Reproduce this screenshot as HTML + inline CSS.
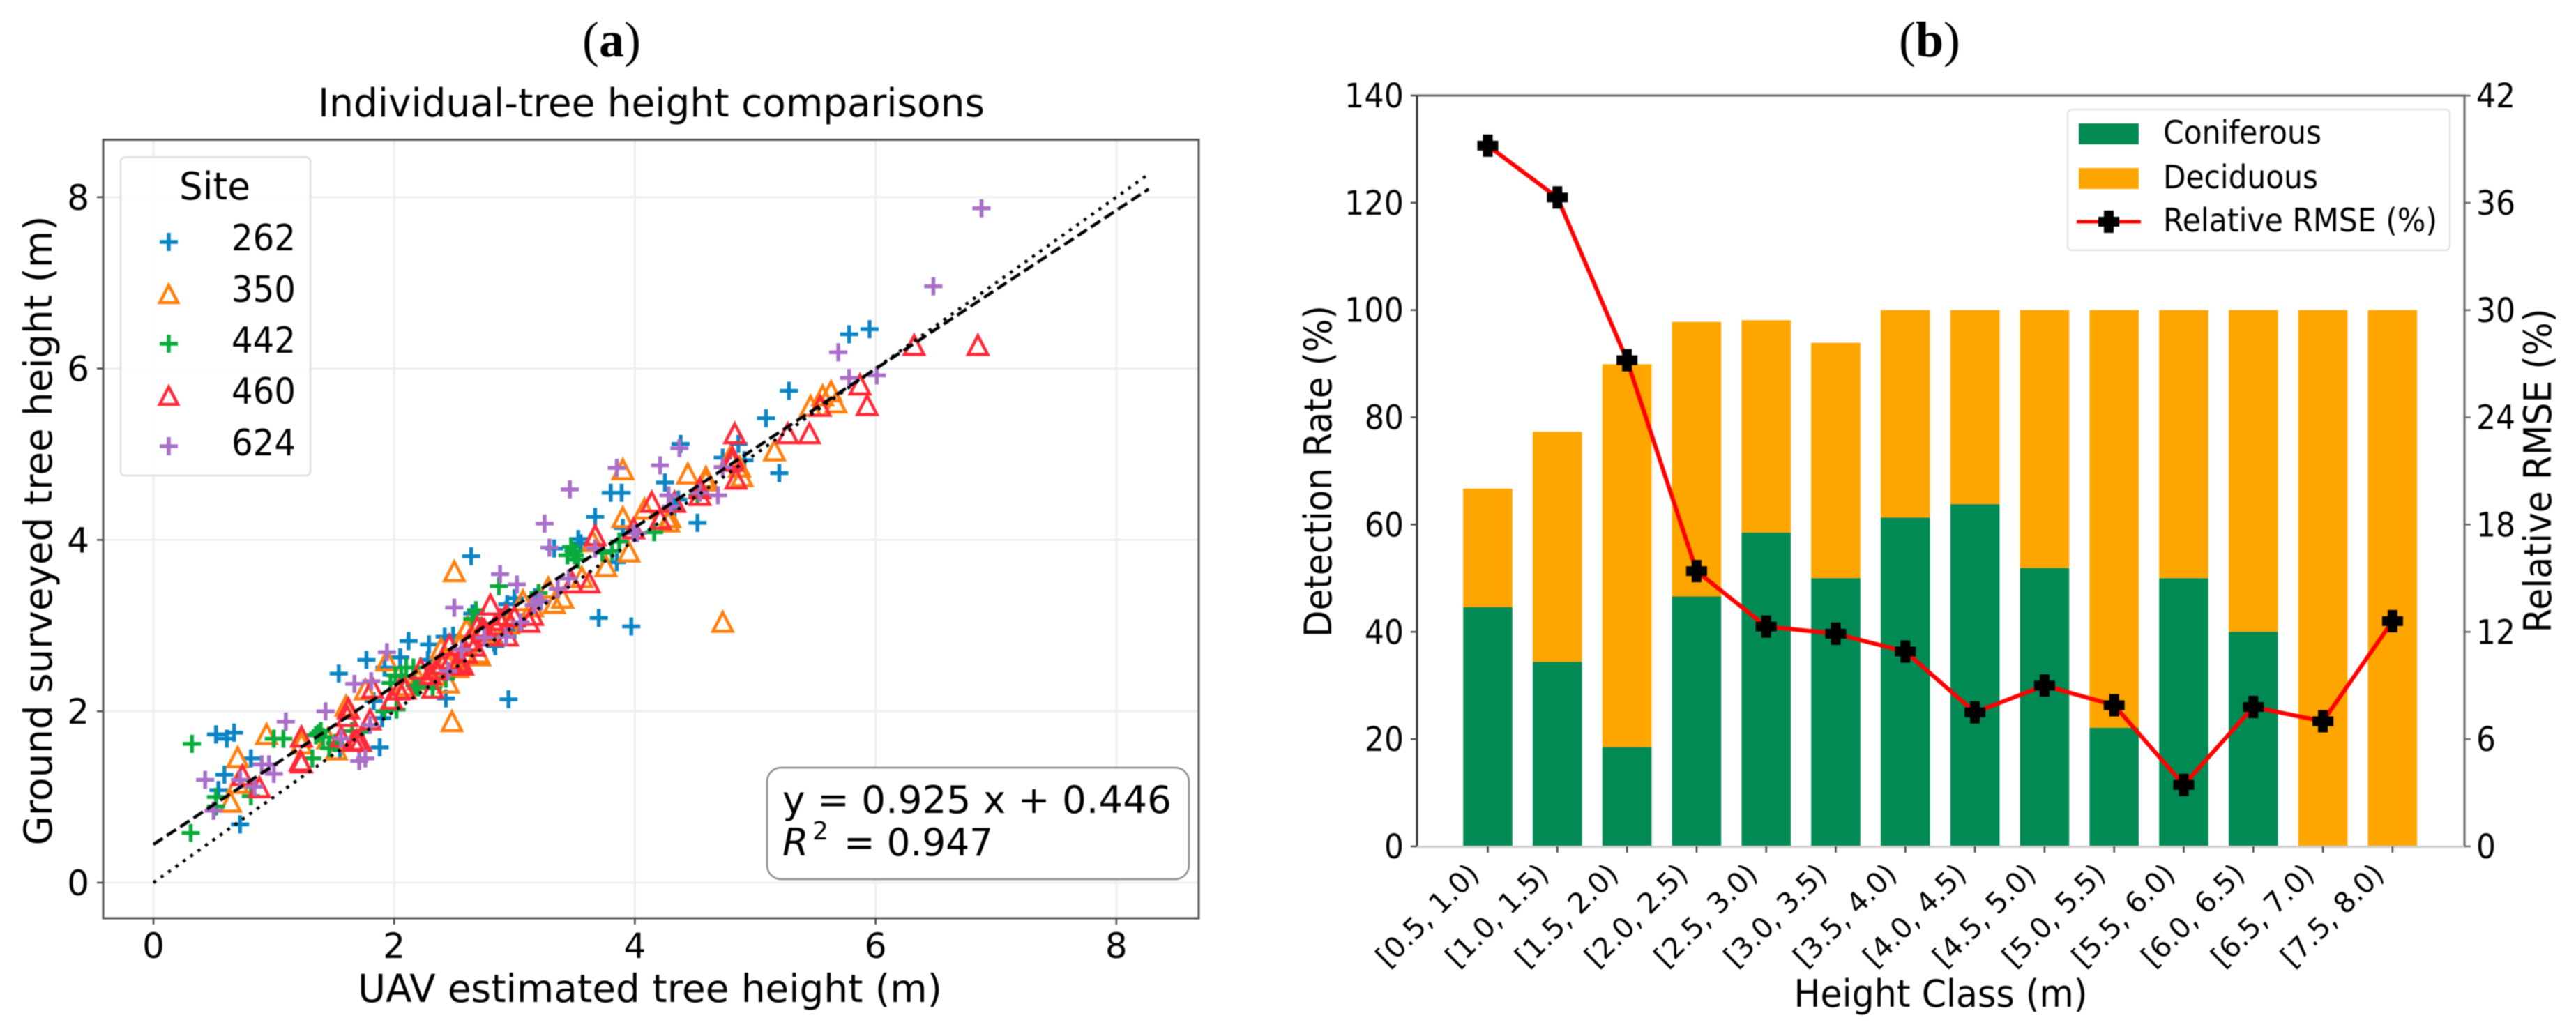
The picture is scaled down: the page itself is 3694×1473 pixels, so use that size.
<!DOCTYPE html>
<html lang="en">
<head>
<meta charset="utf-8">
<title>Tree height comparisons and detection rate</title>
<style>
html,body{margin:0;padding:0;background:#fff;}
svg{display:block;filter:blur(0.7px);}
text{font-family:"DejaVu Sans",sans-serif;fill:#000;}
.panel{font-family:"Liberation Serif",serif;font-size:72px;}
</style>
</head>
<body>
<svg xmlns="http://www.w3.org/2000/svg" width="3694" height="1473" viewBox="0 0 3694 1473">
  <rect x="0" y="0" width="3694" height="1473" fill="#fff"/>
  <text class="panel" x="877" y="81" text-anchor="middle">(<tspan font-weight="bold">a</tspan>)</text>
  <text class="panel" x="2767" y="81" text-anchor="middle">(<tspan font-weight="bold">b</tspan>)</text>

  <g id="chartA">
    <text x="934" y="167" text-anchor="middle" font-size="56" textLength="956" lengthAdjust="spacingAndGlyphs">Individual-tree height comparisons</text>
    <g id="gridA"></g>
    <g id="seriesA"></g>
    <g id="linesA"></g>
    <rect x="148" y="200.5" width="1571" height="1116.5" fill="none" stroke="#555" stroke-width="3"/>
    <g id="ticksA"></g>
    <text x="932" y="1437" text-anchor="middle" font-size="55" textLength="838" lengthAdjust="spacingAndGlyphs">UAV estimated tree height (m)</text>
    <text transform="translate(74,761) rotate(-90)" text-anchor="middle" font-size="55" textLength="903" lengthAdjust="spacingAndGlyphs">Ground surveyed tree height (m)</text>

    <g>
      <rect x="173" y="225.5" width="272" height="456.5" rx="6" ry="6" fill="#fff" fill-opacity="0.9" stroke="#ddd" stroke-width="2.5"/>
      <text x="308" y="286" text-anchor="middle" font-size="54" textLength="102" lengthAdjust="spacingAndGlyphs">Site</text>
      <path d="M229 347H255M242 334V360" stroke="#0a84c4" stroke-width="5.5" fill="none"/>
      <text x="332" y="359" font-size="52" textLength="92" lengthAdjust="spacingAndGlyphs">262</text>
      <path d="M242 409L255 434H229Z" stroke="#ff7f0e" stroke-width="4.5" fill="none"/>
      <text x="332" y="433" font-size="52" textLength="92" lengthAdjust="spacingAndGlyphs">350</text>
      <path d="M229 493H255M242 480V506" stroke="#08ab3c" stroke-width="5.5" fill="none"/>
      <text x="332" y="506" font-size="52" textLength="92" lengthAdjust="spacingAndGlyphs">442</text>
      <path d="M242 555L255 580H229Z" stroke="#ff2a38" stroke-width="4.5" fill="none"/>
      <text x="332" y="579" font-size="52" textLength="92" lengthAdjust="spacingAndGlyphs">460</text>
      <path d="M229 640H255M242 627V653" stroke="#a86ec8" stroke-width="5.5" fill="none"/>
      <text x="332" y="653" font-size="52" textLength="92" lengthAdjust="spacingAndGlyphs">624</text>
    </g>

    <g>
      <rect x="1100" y="1101" width="605" height="160" rx="20" ry="20" fill="#fff" stroke="#8a8a8a" stroke-width="2.5"/>
      <text x="1122" y="1166" font-size="54" textLength="558" lengthAdjust="spacingAndGlyphs">y = 0.925 x + 0.446</text>
      <text x="1122" y="1227" font-size="54" font-style="italic">R</text>
      <text x="1165" y="1204" font-size="36">2</text>
      <text x="1210" y="1227" font-size="54" textLength="214" lengthAdjust="spacingAndGlyphs">= 0.947</text>
    </g>
  </g>

  <g id="chartB">
    <g id="barsB"></g>
    <path d="M2032 1214V137H3534V1214" fill="none" stroke="#666" stroke-width="3"/>
    <path d="M2032 137V1214" fill="none" stroke="#333" stroke-width="3"/>
    <path d="M2032 1214.5H3534" fill="none" stroke="#ccc" stroke-width="3"/>
    <g id="ticksB"></g>
    <g id="lineB"></g>
    <text x="2783" y="1444" text-anchor="middle" font-size="54" textLength="421" lengthAdjust="spacingAndGlyphs">Height Class (m)</text>
    <text transform="translate(1909,676) rotate(-90)" text-anchor="middle" font-size="54" textLength="476" lengthAdjust="spacingAndGlyphs">Detection Rate (%)</text>
    <text transform="translate(3658,675) rotate(-90)" text-anchor="middle" font-size="54" textLength="465" lengthAdjust="spacingAndGlyphs">Relative RMSE (%)</text>

    <g>
      <rect x="2965" y="157" width="548" height="202" rx="6" ry="6" fill="#fff" fill-opacity="0.9" stroke="#e4e4e4" stroke-width="2.5"/>
      <rect x="2981" y="177" width="86" height="30" fill="#028a54"/>
      <text x="3102" y="206" font-size="46" textLength="227" lengthAdjust="spacingAndGlyphs">Coniferous</text>
      <rect x="2981" y="241" width="86" height="30" fill="#ffa500"/>
      <text x="3102" y="270" font-size="46" textLength="222" lengthAdjust="spacingAndGlyphs">Deciduous</text>
      <path d="M2978 318H3070" stroke="#f00" stroke-width="5" fill="none"/>
      <path d="M3017 302H3031V311H3039V325H3031V334H3017V325H3009V311H3017Z" fill="#000"/>
      <text x="3102" y="332" font-size="46" textLength="393" lengthAdjust="spacingAndGlyphs">Relative RMSE (%)</text>
    </g>
  </g>
</svg>

<script>
// ---------- Panel (a) data: [UAV estimated height, ground surveyed height] ----------
const site262 = [[1.54,2.44],[.52,1.73],[.61,1.68],[.67,1.75],[.81,1.45],[.59,1.26],[.54,1.08],[.72,.68],[1.55,1.55],[2.64,3.81],[1.77,2.60],[2.12,2.82],[2.29,2.78],[2.05,2.63],[2.49,2.88],[2.42,2.87],[3.00,3.32],[2.94,3.25],[2.84,2.76],[2.28,2.60],[1.92,2.51],[3.00,2.95],[3.17,3.33],[2.95,2.14],[2.43,2.15],[1.88,1.58],[3.67,4.27],[3.80,4.55],[3.89,4.55],[4.25,4.67],[4.38,5.12],[4.52,4.20],[3.53,4.01],[3.33,3.90],[3.90,4.14],[4.36,4.47],[4.33,4.36],[5.95,6.46],[5.78,6.40],[5.28,5.74],[5.09,5.42],[4.86,5.12],[4.73,4.96],[4.91,4.93],[5.20,4.78],[3.70,3.09],[3.97,2.99],[2.65,3.14],[2.93,3.18],[2.83,2.80],[3.55,3.96],[3.85,3.74],[1.83,2.12],[1.90,1.92]];
const site350 = [[.94,1.73],[.70,1.46],[.64,.94],[1.60,2.06],[1.23,1.62],[.70,1.16],[1.45,1.68],[1.52,1.55],[2.50,3.63],[1.94,2.59],[3.07,3.29],[2.61,2.98],[2.71,2.65],[2.45,2.33],[1.76,2.25],[2.39,2.73],[2.53,2.51],[2.09,2.30],[2.48,1.88],[3.90,4.82],[3.90,4.26],[4.44,4.77],[4.59,4.73],[4.08,4.36],[4.29,4.26],[3.65,3.98],[3.95,3.86],[5.46,5.56],[5.56,5.68],[5.63,5.73],[5.67,5.60],[5.16,5.04],[4.79,4.96],[4.87,4.85],[4.73,3.04],[2.60,2.96],[2.70,2.68],[3.33,3.26],[3.40,3.32],[3.28,3.44],[3.56,3.56],[3.76,3.69],[4.59,4.69],[4.89,4.74],[4.28,4.21],[2.43,2.61],[2.20,2.37],[2.29,2.42],[2.35,2.52],[2.55,2.78],[2.80,2.92],[2.95,3.02],[3.15,3.22]];
const site442 = [[.32,1.62],[1.00,1.68],[1.08,1.68],[.31,.58],[.52,1.00],[.81,1.01],[.52,.89],[1.32,1.45],[1.39,1.77],[1.35,1.72],[1.46,1.57],[1.41,1.70],[2.87,3.46],[2.68,3.18],[2.65,3.08],[2.01,2.42],[2.10,2.51],[2.17,2.30],[2.43,2.38],[3.20,3.38],[2.16,2.51],[2.32,2.27],[4.16,4.09],[3.87,3.98],[3.49,3.87],[4.52,4.52],[3.81,3.87],[3.73,3.85],[3.44,3.82],[3.53,3.77],[2.02,2.02],[1.92,2.00],[2.20,2.28],[2.06,2.41],[1.97,2.33],[1.51,1.63],[1.65,1.77],[1.74,1.76],[3.47,3.92],[3.50,3.82],[1.37,1.74]];
const site460 = [[1.23,1.70],[1.22,1.42],[1.23,1.40],[.74,1.25],[.88,1.11],[1.61,1.94],[1.62,2.03],[1.56,1.70],[1.66,1.65],[1.72,1.65],[2.80,3.24],[2.69,2.98],[2.46,2.77],[2.93,3.12],[2.84,3.00],[3.12,3.04],[2.94,2.88],[2.67,2.76],[2.53,2.57],[2.47,2.60],[2.30,2.43],[2.22,2.49],[1.82,2.27],[2.04,2.25],[2.32,2.27],[3.15,3.12],[2.78,2.88],[4.14,4.44],[3.67,4.05],[4.21,4.24],[3.99,4.13],[4.54,4.52],[4.54,4.60],[4.33,4.44],[4.83,5.24],[5.87,5.81],[5.93,5.57],[5.54,5.56],[5.27,5.24],[5.45,5.24],[4.81,4.96],[6.32,6.27],[6.85,6.27],[3.48,3.50],[3.62,3.50],[2.73,2.96],[2.57,2.54],[1.80,1.90],[1.69,1.66],[1.98,2.14],[2.09,2.26],[4.84,4.71],[4.81,4.92],[2.35,2.48],[2.40,2.55],[2.60,2.68],[2.62,2.82],[2.75,2.95],[2.88,3.06],[3.00,3.10]];
const site624 = [[.43,1.20],[1.10,1.88],[.90,1.38],[.96,1.38],[1.00,1.27],[.72,1.20],[.50,.84],[.84,1.12],[1.43,2.00],[1.67,2.32],[1.56,1.68],[1.71,1.42],[1.76,1.45],[2.88,3.60],[3.02,3.48],[2.50,3.21],[1.94,2.69],[1.81,2.35],[2.56,2.72],[2.75,2.86],[2.93,2.87],[3.05,3.04],[2.45,2.47],[3.20,3.29],[3.25,4.19],[3.46,4.59],[3.85,4.84],[4.21,4.87],[4.37,5.07],[4.28,4.52],[4.02,4.08],[3.29,3.91],[3.67,3.90],[4.30,4.39],[4.54,4.55],[5.69,6.19],[5.78,5.89],[6.01,5.92],[4.73,4.85],[6.88,7.87],[6.48,6.96],[4.69,4.52],[3.99,4.08],[3.22,3.28],[3.16,3.24],[1.80,1.84],[3.36,3.43],[3.45,3.55]];
const scatterXTicks = [0, 2, 4, 6, 8];
const scatterYTicks = [0, 2, 4, 6, 8];
const fitSlope = 0.925;
const fitIntercept = 0.446;
const lineEnd = 8.27;

// ---------- Panel (b) data ----------
const heightClasses = ["[0.5, 1.0)","[1.0, 1.5)","[1.5, 2.0)","[2.0, 2.5)","[2.5, 3.0)","[3.0, 3.5)","[3.5, 4.0)","[4.0, 4.5)","[4.5, 5.0)","[5.0, 5.5)","[5.5, 6.0)","[6.0, 6.5)","[6.5, 7.0)","[7.5, 8.0)"];
const coniferousRate = [44.6, 34.4, 18.5, 46.6, 58.5, 50, 61.3, 63.8, 51.9, 22.1, 50, 40, 0, 0];
const deciduousRate = [22.1, 42.9, 71.4, 51.2, 39.6, 43.9, 38.7, 36.2, 48.1, 77.9, 50, 60, 100, 100];
const relativeRmse = [39.2, 36.3, 27.2, 15.4, 12.3, 11.9, 10.9, 7.5, 9.0, 7.9, 3.44, 7.8, 7.0, 12.6];
const rateTicks = [0, 20, 40, 60, 80, 100, 120, 140];
const rmseTicks = [0, 6, 12, 18, 24, 30, 36, 42];

// ---------- Helpers ----------
const NS = 'http://www.w3.org/2000/svg';
function mk(tag, attrs, parent) {
  const el = document.createElementNS(NS, tag);
  for (const k in attrs) el.setAttribute(k, attrs[k]);
  parent.appendChild(el);
  return el;
}
// Axis functions, panel (a)
const xA = v => 220 + 172.6 * v;
const yA = v => 1266 - 122.9 * v;
// Axis functions, panel (b)
const xB = i => 2133.5 + 99.8 * i;
const yB = v => 1214 - 7.693 * v;
const yR = v => 1214 - 25.64 * v;
const BAR_W = 70.6;

// ---------- Panel (a) ----------
const gridA = document.getElementById('gridA');
const ticksA = document.getElementById('ticksA');
const seriesA = document.getElementById('seriesA');
const linesA = document.getElementById('linesA');

scatterXTicks.forEach(t => {
  const g = mk('line', {x1:xA(t), x2:xA(t), y1:200, y2:1317, stroke:'#eeeeee', 'stroke-width':3}, gridA);
  
  
  const m = mk('line', {x1:xA(t), x2:xA(t), y1:1317, y2:1326, stroke:'#444', 'stroke-width':2.5}, ticksA);
  
  
  const l = mk('text', {x:xA(t), y:1374, 'text-anchor':'middle', 'font-size':50}, ticksA);
  l.textContent = t;
  
  
});
scatterYTicks.forEach(t => {
  const g = mk('line', {x1:148, x2:1719, y1:yA(t), y2:yA(t), stroke:'#eeeeee', 'stroke-width':3}, gridA);
  
  
  const m = mk('line', {x1:139, x2:148, y1:yA(t), y2:yA(t), stroke:'#444', 'stroke-width':2.5}, ticksA);
  
  
  const l = mk('text', {x:128, y:yA(t)+18, 'text-anchor':'end', 'font-size':50}, ticksA);
  l.textContent = t;
  
  
});

function drawPlus(points, colour, name) {
  points.forEach(p => {
    const cx = xA(p[0]), cy = yA(p[1]);
    const el = mk('path', {d:'M'+(cx-13)+' '+cy+'H'+(cx+13)+'M'+cx+' '+(cy-13)+'V'+(cy+13), stroke:colour, 'stroke-width':5.5, fill:'none'}, seriesA);
    
    
  });
}
function drawTriangle(points, colour, name) {
  points.forEach(p => {
    const cx = xA(p[0]), cy = yA(p[1]);
    const el = mk('path', {d:'M'+cx+' '+(cy-14)+'L'+(cx+14)+' '+(cy+13)+'H'+(cx-14)+'Z', stroke:colour, 'stroke-width':4.5, fill:'none'}, seriesA);
    
    
  });
}
drawPlus(site262, '#0a84c4', 'site-262-point');
drawTriangle(site350, '#ff7f0e', 'site-350-point');
drawPlus(site442, '#08ab3c', 'site-442-point');
drawTriangle(site460, '#ff2a38', 'site-460-point');
drawPlus(site624, '#a86ec8', 'site-624-point');

const oneToOne = mk('line', {x1:xA(0), y1:yA(0), x2:xA(lineEnd), y2:yA(lineEnd), stroke:'#000', 'stroke-width':4.5, 'stroke-dasharray':'4.5 8.5'}, linesA);


const fitLine = mk('line', {x1:xA(0), y1:yA(fitIntercept), x2:xA(lineEnd), y2:yA(fitSlope*lineEnd+fitIntercept), stroke:'#000', 'stroke-width':4.5, 'stroke-dasharray':'16 7'}, linesA);



// ---------- Panel (b) ----------
const barsB = document.getElementById('barsB');
const ticksB = document.getElementById('ticksB');
const lineB = document.getElementById('lineB');

heightClasses.forEach((name, i) => {
  const c = coniferousRate[i], d = deciduousRate[i];
  const top = mk('rect', {x:xB(i)-BAR_W/2, y:yB(c+d), width:BAR_W, height:yB(c)-yB(c+d), fill:'#ffa500'}, barsB);
  
  
  const low = mk('rect', {x:xB(i)-BAR_W/2, y:yB(c), width:BAR_W, height:yB(0)-yB(c), fill:'#028a54'}, barsB);
  
  
  const m = mk('line', {x1:xB(i), x2:xB(i), y1:1214, y2:1223, stroke:'#444', 'stroke-width':2.5}, ticksB);
  
  
  const l = mk('text', {transform:'translate('+(xB(i)-10)+',1256) rotate(-45)', 'text-anchor':'end', 'font-size':41}, ticksB);
  l.textContent = name;
  
  
});
rateTicks.forEach(t => {
  const m = mk('line', {x1:2023, x2:2032, y1:yB(t), y2:yB(t), stroke:'#444', 'stroke-width':2.5}, ticksB);
  
  
  const l = mk('text', {x:2013, y:yB(t)+17, 'text-anchor':'end', 'font-size':48, textLength:t >= 100 ? 85 : (t > 0 ? 56 : 28), lengthAdjust:'spacingAndGlyphs'}, ticksB);
  l.textContent = t;
  
  
});
rmseTicks.forEach(t => {
  const m = mk('line', {x1:3534, x2:3543, y1:yR(t), y2:yR(t), stroke:'#666', 'stroke-width':2.5}, ticksB);
  
  
  const l = mk('text', {x:3551, y:yR(t)+17, 'font-size':48, textLength:t >= 10 ? 56 : 28, lengthAdjust:'spacingAndGlyphs'}, ticksB);
  l.textContent = t;
  
  
});
const rmsePath = mk('polyline', {points:relativeRmse.map((v, i) => xB(i)+','+yR(v)).join(' '), fill:'none', stroke:'#f00', 'stroke-width':6, 'stroke-linejoin':'round'}, lineB);


relativeRmse.forEach((v, i) => {
  const cx = xB(i), cy = yR(v);
  const d = 'M'+(cx-7)+' '+(cy-16)+'H'+(cx+7)+'V'+(cy-7)+'H'+(cx+15)+'V'+(cy+7)+'H'+(cx+7)+'V'+(cy+16)+'H'+(cx-7)+'V'+(cy+7)+'H'+(cx-15)+'V'+(cy-7)+'H'+(cx-7)+'Z';
  const mark = mk('path', {d:d, fill:'#000'}, lineB);
  
  
});
</script>
</body>
</html>
